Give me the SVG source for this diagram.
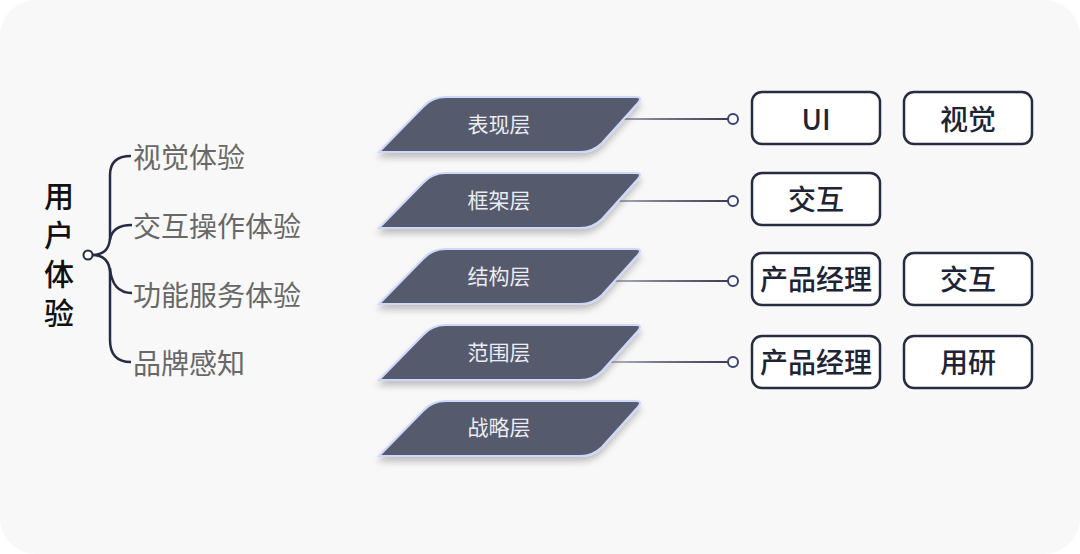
<svg xmlns="http://www.w3.org/2000/svg" width="1080" height="554" viewBox="0 0 1080 554">
<defs>
<style>
.layer{fill:#545a6c;stroke:#cdd8fb;stroke-width:2;filter:url(#sh)}
.ltxt{font-family:"Noto Sans CJK SC",sans-serif;font-size:21px;fill:#ececf2;text-anchor:middle;dominant-baseline:central}
.box{fill:#ffffff;stroke:#262c42;stroke-width:2.5}
.btxt{font-family:"Noto Sans CJK SC","Liberation Sans",sans-serif;font-size:28px;fill:#1e2436;text-anchor:middle;dominant-baseline:central;font-weight:500}
.sub{font-family:"Noto Sans CJK SC",sans-serif;font-size:28px;fill:#686868;dominant-baseline:central}
.conn{fill:none;stroke:url(#lg);stroke-width:2}
.dot{fill:#fff;stroke:#3a4270;stroke-width:2}
.br{fill:none;stroke:#262c42;stroke-width:2.5}
.ux{font-family:"Noto Sans CJK SC",sans-serif;font-size:30px;font-weight:500;fill:#111;writing-mode:vertical-rl;letter-spacing:9px}
</style>
<linearGradient id="lg" gradientUnits="userSpaceOnUse" x1="598" y1="0" x2="728" y2="0">
<stop offset="0" stop-color="#c8cad0"/>
<stop offset="0.45" stop-color="#777b8c"/>
<stop offset="1" stop-color="#3a3f55"/>
</linearGradient>
<filter id="sh" x="-10%" y="-20%" width="120%" height="160%">
<feDropShadow dx="0" dy="5" stdDeviation="3" flood-color="#000" flood-opacity="0.22"/>
</filter>
<path id="para" d="M379,55 L423,10 Q432,0 446,0 L636,0 Q643,0 638,6 L602,46 Q593,55 580,55 Z"/>
</defs>
<rect x="0" y="0" width="1080" height="554" fill="#ffffff"/>
<rect x="0" y="0" width="1080" height="554" rx="36" fill="#f8f8f8"/>

<g id="user-experience">
<text class="ux" x="59" y="181">用户体验</text>
</g>

<g id="bracket">
<path class="br" d="M92,255 Q109,255 110,238 L110,175 Q110,156 131,156"/>
<path class="br" d="M110,240 Q112,225 132,225"/>
<path class="br" d="M92,255 Q109,255 110,272 L110,340 Q110,362 131,362"/>
<path class="br" d="M110,268 Q112,293 132,293"/>
<circle cx="88" cy="255" r="4.5" fill="#fff" stroke="#262c42" stroke-width="2"/>
</g>

<g id="sub-items">
<text class="sub" x="133" y="156">视觉体验</text>
<text class="sub" x="133" y="225">交互操作体验</text>
<text class="sub" x="133" y="294">功能服务体验</text>
<text class="sub" x="133" y="362">品牌感知</text>
</g>

<g id="connectors">
<line class="conn" x1="598" y1="119" x2="728" y2="119"/>
<circle class="dot" cx="733" cy="119" r="5"/>
<line class="conn" x1="598" y1="201" x2="728" y2="201"/>
<circle class="dot" cx="733" cy="201" r="5"/>
<line class="conn" x1="598" y1="281" x2="728" y2="281"/>
<circle class="dot" cx="733" cy="281" r="5"/>
<line class="conn" x1="598" y1="362" x2="728" y2="362"/>
<circle class="dot" cx="733" cy="362" r="5"/>
</g>

<g id="layer-1"><use href="#para" class="layer" x="0" y="97"/><text class="ltxt" x="499" y="123">表现层</text></g>
<g id="layer-2"><use href="#para" class="layer" x="0" y="173"/><text class="ltxt" x="499" y="199">框架层</text></g>
<g id="layer-3"><use href="#para" class="layer" x="0" y="249"/><text class="ltxt" x="499" y="275">结构层</text></g>
<g id="layer-4"><use href="#para" class="layer" x="0" y="325"/><text class="ltxt" x="499" y="351">范围层</text></g>
<g id="layer-5"><use href="#para" class="layer" x="0" y="401"/><text class="ltxt" x="499" y="426">战略层</text></g>

<g id="box-ui"><rect class="box" x="752" y="92" width="128" height="52" rx="10"/><text class="btxt" x="816" y="118" font-family="Liberation Sans,sans-serif" font-weight="normal">UI</text></g>
<g id="box-visual"><rect class="box" x="904" y="92" width="128" height="52" rx="10"/><text class="btxt" x="968" y="118">视觉</text></g>
<g id="box-interaction"><rect class="box" x="752" y="173" width="128" height="52" rx="10"/><text class="btxt" x="816" y="198">交互</text></g>
<g id="box-pm-1"><rect class="box" x="752" y="253" width="128" height="52" rx="10"/><text class="btxt" x="816" y="278">产品经理</text></g>
<g id="box-interaction-2"><rect class="box" x="904" y="253" width="128" height="52" rx="10"/><text class="btxt" x="968" y="278">交互</text></g>
<g id="box-pm-2"><rect class="box" x="752" y="336" width="128" height="52" rx="10"/><text class="btxt" x="816" y="361">产品经理</text></g>
<g id="box-research"><rect class="box" x="904" y="336" width="128" height="52" rx="10"/><text class="btxt" x="968" y="361">用研</text></g>
</svg>
